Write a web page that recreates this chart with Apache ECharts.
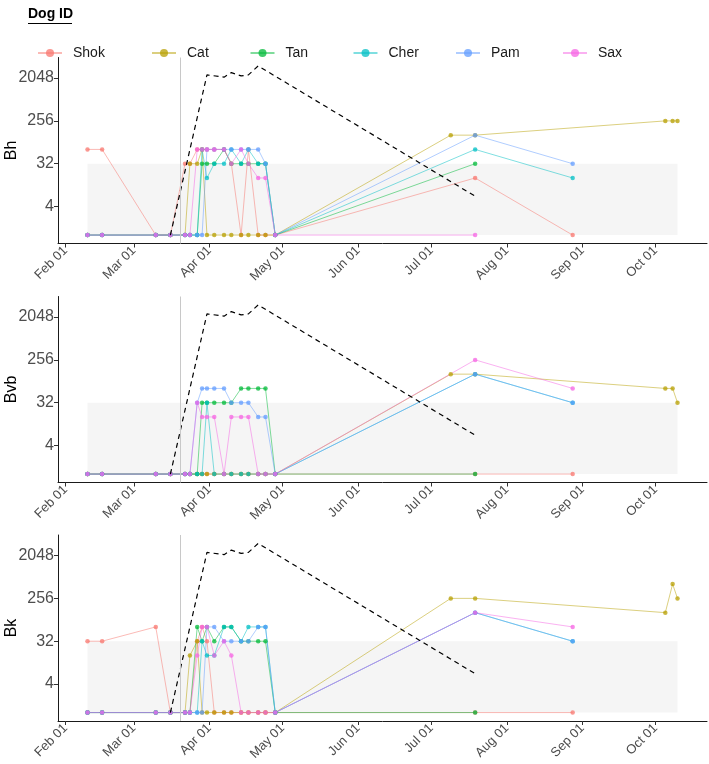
<!DOCTYPE html>
<html><head><meta charset="utf-8">
<script src="https://cdn.jsdelivr.net/npm/echarts@6/dist/echarts.min.js"></script>
<style>html,body{margin:0;padding:0;background:#fff}#c{width:709px;height:764px}</style>
</head><body><div id="c"></div>
<script>
// ---- data ----
const dates = ['2021-02-10','2021-02-16','2021-03-10','2021-03-16','2021-03-22','2021-03-24','2021-03-27','2021-03-29','2021-03-31','2021-04-03','2021-04-07','2021-04-10','2021-04-14','2021-04-17','2021-04-21','2021-04-24','2021-04-28','2021-07-09','2021-07-19','2021-08-28','2021-10-05','2021-10-08','2021-10-10'];
const dogs = ['Shok','Cat','Tan','Cher','Pam','Sax'];
const panels = ['Bh','Bvb','Bk'];

const bhShok = [64,64,1,1,32,32,64,64,64,64,64,32,1,64,1,1,1,null,16,1,null,null,null];
const bhCat  = [1,1,1,1,1,32,32,64,1,1,1,1,1,1,1,1,1,128,128,null,256,256,256];
const bhTan  = [1,1,1,1,1,1,1,32,32,32,64,32,32,32,32,32,1,null,32,null,null,null,null];
const bhCher = [1,1,1,1,1,1,1,64,16,32,32,64,32,64,32,32,1,null,64,16,null,null,null];
const bhPam  = [1,1,1,1,1,1,1,1,64,64,64,64,64,64,64,32,1,null,128,32,null,null,null];
const bhSax  = [1,1,1,1,1,1,64,64,64,64,64,32,64,32,16,16,1,null,1,null,null,null,null];

const bvbShok = [1,1,1,1,1,1,1,1,1,1,1,1,1,1,1,1,1,null,1,1,null,null,null];
const bvbCat  = [1,1,1,1,1,1,1,1,1,1,1,1,1,1,1,1,1,128,128,null,64,64,32];
const bvbTan  = [1,1,1,1,1,1,1,32,32,32,32,32,64,64,64,64,1,null,1,null,null,null,null];
const bvbCher = [1,1,1,1,1,1,1,1,32,1,1,1,1,1,1,1,1,null,128,32,null,null,null];
const bvbPam  = [1,1,1,1,1,1,32,64,64,64,64,32,32,32,16,16,1,null,128,32,null,null,null];
const bvbSax  = [1,1,1,1,1,1,32,16,16,16,1,16,16,16,1,1,1,null,256,64,null,null,null];

const bkShok = [32,32,64,1,1,1,32,64,32,1,1,1,1,1,1,1,1,null,1,1,null,null,null];
const bkCat  = [1,1,1,1,1,16,32,1,1,1,1,1,1,1,1,1,1,256,256,null,128,512,256];
const bkTan  = [1,1,1,1,1,1,64,32,64,32,64,64,32,32,32,32,1,null,1,null,null,null,null];
const bkCher = [1,1,1,1,1,1,1,32,16,16,64,64,32,64,64,64,1,null,128,32,null,null,null];
const bkPam  = [1,1,1,1,1,1,1,1,64,64,32,32,32,32,64,64,1,null,128,32,null,null,null];
const bkSax  = [1,1,1,1,1,1,16,64,64,16,32,16,1,1,1,1,1,null,128,64,null,null,null];

const refDates  = ['2021-03-16','2021-03-31','2021-04-07','2021-04-10','2021-04-14','2021-04-17','2021-04-21','2021-07-19'];
const refValues = [1,2390,2140,2670,2270,2390,3690,6.6];

const cutoffStart = '2021-02-10', cutoffEnd = '2021-10-10', cutoffLow = 1, cutoffHigh = 32;
const challengeDate = '2021-03-20';

const xTickDates  = ['2021-02-01','2021-03-01','2021-04-01','2021-05-01','2021-06-01','2021-07-01','2021-08-01','2021-09-01','2021-10-01'];
const xTickLabels = ['Feb 01','Mar 01','Apr 01','May 01','Jun 01','Jul 01','Aug 01','Sep 01','Oct 01'];
const yTickValues = [4,32,256,2048];

// ---- styles / layout ----
const panelData = [
  [bhShok,bhCat,bhTan,bhCher,bhPam,bhSax],
  [bvbShok,bvbCat,bvbTan,bvbCher,bvbPam,bvbSax],
  [bkShok,bkCat,bkTan,bkCher,bkPam,bkSax]
];
const colors = ['#F8766D','#B79F00','#00BA38','#00BFC4','#619CFF','#F564E3'];
const F = 'Liberation Sans, Arial, sans-serif';
const gridTops = [57.5, 296.5, 535];
const gridH = 186;
const legendLefts = [32, 146, 244.5, 347.5, 450, 557];

// dates -> day numbers (time scale expressed in days)
const dayNum = s => { const [y,m,d] = s.split('-').map(Number); return Date.UTC(y, m-1, d) / 86400000; };
const xMin = dayNum(cutoffStart) - 12.1;
const xMax = dayNum(cutoffEnd) + 12.1;
const yMin = Math.pow(2,-0.59), yMax = Math.pow(2,12.44);
const tickDays = xTickDates.map(dayNum);
const labelFor = v => { const i = tickDays.findIndex(t => Math.abs(t - v) < 0.5); return i >= 0 ? xTickLabels[i] : ''; };

const grids = [], xAxes = [], yAxes = [], series = [];
panels.forEach((p, pi) => {
  grids.push({left: 58, right: 2, top: gridTops[pi], height: gridH, containLabel: false, outerBoundsMode: 'none'});
  xAxes.push({
    type: 'value', gridIndex: pi, min: xMin, max: xMax, scale: true,
    axisLine: {show: true, onZero: false, lineStyle: {color: '#1a1a1a', width: 1}},
    axisTick: {show: true, length: 4, lineStyle: {color: '#333'}, customValues: tickDays},
    axisLabel: {customValues: tickDays, rotate: 45, fontSize: 13, color: '#4d4d4d', fontFamily: F, margin: 5, formatter: labelFor, hideOverlap: false, overflow: 'none'},
    splitLine: {show: false}
  });
  yAxes.push({
    type: 'log', logBase: 2, gridIndex: pi, min: yMin, max: yMax,
    name: p, nameLocation: 'middle', nameGap: 38, nameRotate: 90, nameMoveOverlap: false,
    nameTextStyle: {fontSize: 16, color: '#000', fontFamily: F},
    axisLine: {show: true, onZero: false, lineStyle: {color: '#1a1a1a', width: 1}},
    axisTick: {show: true, length: 4, lineStyle: {color: '#333'}, customValues: yTickValues},
    axisLabel: {customValues: yTickValues, fontSize: 16, color: '#4d4d4d', fontFamily: F, margin: 4, formatter: v => String(Math.round(v))},
    splitLine: {show: false}
  });
  series.push({
    type: 'line', xAxisIndex: pi, yAxisIndex: pi, data: [], z: 0, silent: true,
    markArea: {silent: true, itemStyle: {color: '#F5F5F5'}, label: {show: false},
      data: [[{coord: [dayNum(cutoffStart), cutoffLow]}, {coord: [dayNum(cutoffEnd), cutoffHigh]}]]},
    markLine: {silent: true, symbol: 'none', label: {show: false},
      lineStyle: {color: '#C8C8C8', type: 'solid', width: 1},
      data: [{xAxis: dayNum(challengeDate)}]}
  });
  dogs.forEach((d, di) => {
    const vals = panelData[pi][di];
    const pts = dates.map((dt, k) => [dayNum(dt), vals[k]]).filter(q => q[1] != null);
    series.push({
      type: 'line', name: d, xAxisIndex: pi, yAxisIndex: pi, data: pts,
      symbol: 'circle', symbolSize: 4.5, showAllSymbol: true, z: 2,
      lineStyle: {width: 1, color: colors[di], opacity: 0.5},
      itemStyle: {color: colors[di], opacity: 0.75},
      emphasis: {disabled: true}
    });
  });
  series.push({
    type: 'line', xAxisIndex: pi, yAxisIndex: pi, z: 3, silent: true,
    data: refDates.map((dt, k) => [dayNum(dt), refValues[k]]),
    symbol: 'none', lineStyle: {color: '#000', width: 1.2, type: [5, 4]},
    emphasis: {disabled: true}
  });
});

const legends = dogs.map((d, i) => ({
  data: [d], left: legendLefts[i], top: 41, itemWidth: 24, itemHeight: 10,
  selectedMode: false, itemGap: 0,
  textStyle: {fontSize: 14, color: '#1a1a1a', fontFamily: F, padding: [0, 0, 0, 6]}
}));

const chart = echarts.init(document.getElementById('c'), null, {renderer: 'canvas'});
chart.setOption({
  animation: false,
  backgroundColor: '#fff',
  grid: grids, xAxis: xAxes, yAxis: yAxes, series: series, legend: legends,
  graphic: [
    {type: 'text', left: 28, top: 7, style: {text: 'Dog ID', font: 'bold 14px Liberation Sans, Arial, sans-serif', fill: '#000'}},
    {type: 'line', shape: {x1: 28, y1: 23.5, x2: 72, y2: 23.5}, style: {stroke: '#000', lineWidth: 1}}
  ]
});
</script>
</body></html>
